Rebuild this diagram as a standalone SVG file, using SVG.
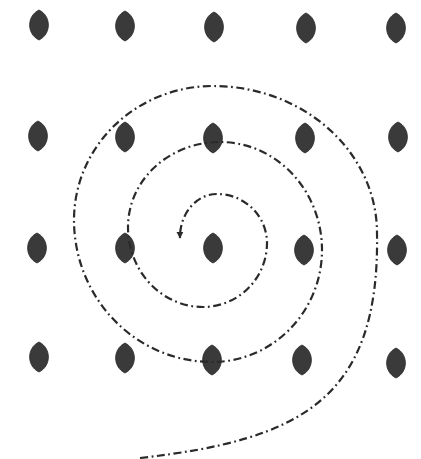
<svg xmlns="http://www.w3.org/2000/svg" xmlns:xlink="http://www.w3.org/1999/xlink" width="421" height="459" viewBox="0 0 421 459">
<style>
.leaf{fill:#3a3a3a;stroke:#2a2a2a;stroke-width:0.8}
.spiral{fill:none;stroke:#2a2a2a;stroke-width:2.2;stroke-dasharray:8 3.5 1.8 3.5;stroke-linecap:butt}
</style>
<defs>
<path id="lf" d="M0,-15 C12.5,-9 12.5,9 0,15 C-12.5,9 -12.5,-9 0,-15 Z"/>
<marker id="ah" viewBox="0 0 10 10" refX="9" refY="5" markerWidth="7" markerHeight="7" orient="auto" markerUnits="userSpaceOnUse">
<path d="M0,0 L10,5 L0,10 Z" fill="#2a2a2a"/>
</marker>
</defs>
<rect width="421" height="459" fill="#ffffff"/>
<g id="leaf-r1c1"><use xlink:href="#lf" class="leaf" x="39" y="25"/></g>
<g id="leaf-r1c2"><use xlink:href="#lf" class="leaf" x="125" y="26"/></g>
<g id="leaf-r1c3"><use xlink:href="#lf" class="leaf" x="214" y="27"/></g>
<g id="leaf-r1c4"><use xlink:href="#lf" class="leaf" x="306" y="28"/></g>
<g id="leaf-r1c5"><use xlink:href="#lf" class="leaf" x="396" y="28"/></g>
<g id="leaf-r2c1"><use xlink:href="#lf" class="leaf" x="38" y="136"/></g>
<g id="leaf-r2c2"><use xlink:href="#lf" class="leaf" x="125" y="137"/></g>
<g id="leaf-r2c3"><use xlink:href="#lf" class="leaf" x="213" y="138"/></g>
<g id="leaf-r2c4"><use xlink:href="#lf" class="leaf" x="305" y="138"/></g>
<g id="leaf-r2c5"><use xlink:href="#lf" class="leaf" x="398" y="137"/></g>
<g id="leaf-r3c1"><use xlink:href="#lf" class="leaf" x="37" y="248"/></g>
<g id="leaf-r3c2"><use xlink:href="#lf" class="leaf" x="125" y="248"/></g>
<g id="leaf-r3c3"><use xlink:href="#lf" class="leaf" x="213" y="248"/></g>
<g id="leaf-r3c4"><use xlink:href="#lf" class="leaf" x="304" y="250"/></g>
<g id="leaf-r3c5"><use xlink:href="#lf" class="leaf" x="397" y="250"/></g>
<g id="leaf-r4c1"><use xlink:href="#lf" class="leaf" x="39" y="357"/></g>
<g id="leaf-r4c2"><use xlink:href="#lf" class="leaf" x="125" y="358"/></g>
<g id="leaf-r4c3"><use xlink:href="#lf" class="leaf" x="212" y="360"/></g>
<g id="leaf-r4c4"><use xlink:href="#lf" class="leaf" x="302" y="360"/></g>
<g id="leaf-r4c5"><use xlink:href="#lf" class="leaf" x="396" y="363"/></g>
<g id="connectors">
<path class="spiral" marker-end="url(#ah)" d="M140,458 C300,440 380,400 377,233 A164,147 0 0 0 213,86 A139,134 0 0 0 74,220 A138,142 0 0 0 212,362 A110,112 0 0 0 322,250 A102,108 0 0 0 220,142 A92,85 0 0 0 128,227 A75,80 0 0 0 203,307 A64,64 0 0 0 267,243 A50,49 0 0 0 217,194 A37,43 0 0 0 180,238"/>
</g>
</svg>
